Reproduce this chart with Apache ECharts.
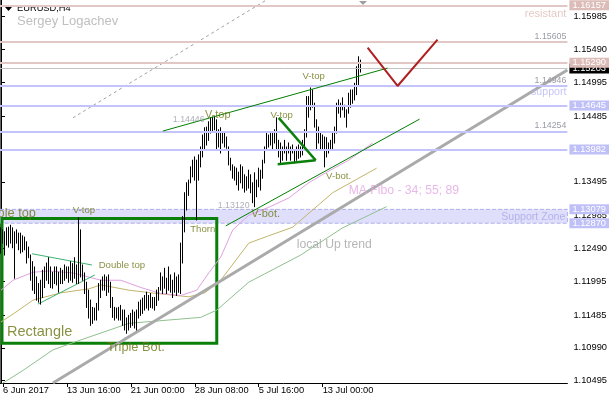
<!DOCTYPE html>
<html><head><meta charset="utf-8">
<script src="https://cdn.jsdelivr.net/npm/echarts@6/dist/echarts.min.js"></script>
<style>html,body{margin:0;padding:0;background:#fff}#c{width:610px;height:400px}</style>
</head><body><div id="c"></div>
<script>
// ---- data (EURUSD, H4) ----
const barHigh = [1.1280,1.1277,1.1274,1.1280,1.1281,1.1284,1.1280,1.1274,1.1277,1.1272,
1.1272,1.1268,1.1266,1.1259,1.1251,1.1239,1.1229,1.1221,1.1206,1.1196,
1.1201,1.1216,1.1221,1.1227,1.1235,1.1221,1.1213,1.1221,1.1221,1.1213,
1.1219,1.1216,1.1224,1.1221,1.1221,1.1229,1.1226,1.1235,1.1224,1.1295,
1.1277,1.1224,1.1212,1.1198,1.1186,1.1171,1.1160,1.1159,1.1166,1.1196,
1.1201,1.1206,1.1209,1.1206,1.1209,1.1198,1.1175,1.1160,1.1159,1.1160,
1.1163,1.1156,1.1156,1.1144,1.1148,1.1151,1.1156,1.1153,1.1156,1.1168,
1.1171,1.1174,1.1178,1.1183,1.1178,1.1181,1.1175,1.1175,1.1186,1.1190,
1.1212,1.1206,1.1219,1.1204,1.1221,1.1209,1.1201,1.1212,1.1206,1.1209,
1.1257,1.1297,1.1333,1.1348,1.1352,1.1372,1.1382,1.1387,1.1382,1.1390,
1.1402,1.1420,1.1431,1.1432,1.1440,1.1446,1.1447,1.1447,1.1443,1.1428,
1.1431,1.1425,1.1425,1.1417,1.1402,1.1385,1.1375,1.1372,1.1370,1.1364,
1.1375,1.1372,1.1360,1.1357,1.1367,1.1360,1.1348,1.1363,1.1352,1.1370,
1.1367,1.1382,1.1402,1.1423,1.1420,1.1425,1.1423,1.1428,1.1446,1.1412,
1.1408,1.1402,1.1412,1.1402,1.1408,1.1402,1.1405,1.1397,1.1402,1.1405,
1.1402,1.1412,1.1428,1.1478,1.1478,1.1491,1.1488,1.1468,1.1443,1.1432,
1.1423,1.1420,1.1417,1.1416,1.1408,1.1412,1.1423,1.1432,1.1468,1.1473,
1.1468,1.1476,1.1465,1.1458,1.1483,1.1488,1.1488,1.1498,1.1523,1.1538,
1.1533];
const barLow = [1.1242,1.1257,1.1239,1.1254,1.1251,1.1257,1.1250,1.1204,1.1257,1.1247,
1.1242,1.1244,1.1247,1.1227,1.1235,1.1201,1.1186,1.1181,1.1171,1.1168,
1.1165,1.1175,1.1190,1.1201,1.1196,1.1190,1.1189,1.1196,1.1194,1.1183,
1.1196,1.1196,1.1201,1.1204,1.1198,1.1201,1.1198,1.1204,1.1196,1.1196,
1.1206,1.1201,1.1181,1.1160,1.1144,1.1133,1.1136,1.1141,1.1141,1.1156,
1.1175,1.1186,1.1186,1.1178,1.1183,1.1160,1.1145,1.1141,1.1144,1.1141,
1.1141,1.1133,1.1126,1.1121,1.1126,1.1130,1.1133,1.1129,1.1126,1.1144,
1.1148,1.1151,1.1156,1.1159,1.1156,1.1160,1.1159,1.1156,1.1163,1.1171,
1.1186,1.1181,1.1189,1.1181,1.1186,1.1183,1.1175,1.1183,1.1178,1.1183,
1.1181,1.1227,1.1274,1.1307,1.1329,1.1348,1.1357,1.1352,1.1292,1.1352,
1.1372,1.1387,1.1397,1.1405,1.1412,1.1423,1.1425,1.1428,1.1397,1.1402,
1.1393,1.1408,1.1402,1.1400,1.1375,1.1367,1.1355,1.1352,1.1345,1.1337,
1.1348,1.1340,1.1334,1.1337,1.1340,1.1333,1.1318,1.1312,1.1327,1.1342,
1.1337,1.1355,1.1378,1.1397,1.1402,1.1405,1.1397,1.1408,1.1397,1.1387,
1.1378,1.1382,1.1393,1.1382,1.1393,1.1382,1.1393,1.1378,1.1382,1.1385,
1.1387,1.1390,1.1397,1.1417,1.1447,1.1458,1.1462,1.1432,1.1397,1.1408,
1.1397,1.1397,1.1372,1.1387,1.1393,1.1397,1.1397,1.1408,1.1423,1.1453,
1.1447,1.1458,1.1447,1.1432,1.1453,1.1462,1.1468,1.1473,1.1481,1.1496,
1.1515];
const lastPrice = 1.15203;

const timeTickIndex = [1, 33, 65, 97, 129, 161];
const timeTickText = ['6 Jun 2017', '13 Jun 16:00', '21 Jun 00:00', '28 Jun 08:00', '5 Jul 16:00', '13 Jul 00:00'];
const priceTicks = [1.10495, 1.10990, 1.11485, 1.11995, 1.12490, 1.12985, 1.13495, 1.13990, 1.14485, 1.14995, 1.15490, 1.15985];

const resistLevelsBoxed = [1.16157, 1.15290];
const resistLevelsTagged = [1.15605];
const supportLevelsBoxed = [1.14645, 1.13982];
const supportLevelsTagged = [1.14946, 1.14254];
const supportZone = [1.13079, 1.12870];

// moving averages (34 / 55 / 89), read at vertices [barIndex, price]
const ma34 = [[0,1.1186],[6,1.1201],[16,1.1213],[24,1.1215],[36,1.1212],[50,1.1201],[60,1.1201],[70,1.1190],[80,1.1181],[90,1.1178],[98,1.1186],[104,1.1212],[110,1.1236],[116,1.1277],[124,1.1299],[134,1.1311],[144,1.1325],[154,1.1348],[163,1.1364],[174,1.1382],[186,1.1408]];
const ma55 = [[0,1.1138],[7,1.1152],[16,1.1171],[30,1.1182],[44,1.1188],[50,1.1194],[64,1.1186],[75,1.1182],[94,1.1176],[102,1.1182],[110,1.1201],[124,1.1257],[134,1.1268],[146,1.1281],[166,1.1333],[188,1.1370]];
const ma89 = [[0,1.1044],[11,1.1065],[26,1.1096],[40,1.1111],[64,1.1136],[100,1.1145],[108,1.1156],[124,1.1198],[150,1.1239],[171,1.1280],[193,1.1312]];

// drawn objects [barIndex, price]
const upTrend = [[26,1.1046],[283.5,1.1518]];
const upTrendParallel = [[36,1.1446],[133,1.1624]];
const channelTop = [[81,1.1426],[193.5,1.1521]];
const channelBottom = [[112.5,1.1283],[209.5,1.1444]];
const triangleA = [[139,1.1446],[157.5,1.1382]];
const triangleB = [[138.5,1.1376],[157.5,1.1382]];
const flagTop = [[15.5,1.1241],[45.5,1.1224]];
const flagBottom = [[18.5,1.1165],[47,1.1209]];
const forecast = [[183.5,1.1552],[198.5,1.1494],[218.5,1.1564]];
const rectangleBox = [[0.5,1.1294],[108,1.1106]];

// text notes [text, barIndex, price, style]
const notes = [
  ['1.14446', 86, 1.1443, 'price'],
  ['1.13120', 108.5, 1.1313, 'price'],
  ['V-top', 41.5, 1.1306, 'pat'],
  ['Double top', 60.5, 1.1224, 'pat'],
  ['Thorn', 101, 1.1278, 'pat'],
  ['V-top', 108.5, 1.1450, 'patL'],
  ['V-top', 140.5, 1.1449, 'pat'],
  ['V-top', 156.5, 1.1508, 'pat'],
  ['V-bot.', 169, 1.1358, 'pat'],
  ['V-bot.', 132.5, 1.1301, 'patL'],
  ['Triple Bot.', 67.5, 1.1099, 'big'],
  ['Rectangle', 3, 1.1123, 'rect'],
  ['Triple top', 17.5, 1.1302, 'bigR'],
  ['local Up trend', 148, 1.1254, 'trend'],
  ['MA Fibo - 34; 55; 89', 174, 1.1336, 'ma'],
  ['Support Zone', 282.5, 1.1296, 'zone'],
  ['resistant', 283, 1.1602, 'res'],
  ['support', 283, 1.1485, 'sup']
];

// ---- styles ----
const FONT = 'Liberation Sans, Arial, sans-serif';
const PINK = '#e2c8c4', BLUE = '#c4c4fa', OLIVE = '#6b7512', GREEN = '#0a7f0a';
const noteStyles = {
  price: {color:'#9a9aa8', fontSize:8.8, align:'left'},
  pat:   {color:OLIVE, fontSize:9.6, align:'center'},
  patL:  {color:OLIVE, fontSize:11, align:'center'},
  big:   {color:OLIVE, fontSize:12.8, align:'center'},
  bigR:  {color:OLIVE, fontSize:12.8, align:'right'},
  rect:  {color:OLIVE, fontSize:14.5, align:'left'},
  trend: {color:'#a4a4a4', fontSize:12.2, align:'left'},
  ma:    {color:'#e3a6e3', fontSize:12.2, align:'left'},
  zone:  {color:'#a8a8e6', fontSize:10.6, align:'right'},
  res:   {color:'#dcbcb6', fontSize:11, align:'right'},
  sup:   {color:'#b6b6f2', fontSize:10.6, align:'right'}
};

function boxLine(v, lineColor, boxColor, textColor, width) {
  return {yAxis: v, lineStyle: {color: lineColor, width: width, type: 'solid'},
    label: {show: true, position: 'end', distance: 2, formatter: v.toFixed(5),
      backgroundColor: boxColor, color: textColor, padding: [0, 3, 0, 3], lineHeight: 10,
      fontSize: 9.3, fontFamily: FONT}};
}
function tagLine(v, lineColor) {
  return {yAxis: v, lineStyle: {color: lineColor, width: 2, type: 'solid'},
    label: {show: true, position: 'insideEndTop', distance: 1, formatter: v.toFixed(5),
      color: '#9a9aa8', fontSize: 8.8, fontFamily: FONT}};
}
const levelLines = [];
levelLines.push(boxLine(lastPrice, '#c4c4c4', '#000', '#fff', 1));
resistLevelsTagged.forEach(v => levelLines.push(tagLine(v, PINK)));
supportLevelsTagged.forEach(v => levelLines.push(tagLine(v, BLUE)));
resistLevelsBoxed.forEach(v => levelLines.push(boxLine(v, PINK, '#dcbcb8', '#fff', 2)));
supportLevelsBoxed.forEach(v => levelLines.push(boxLine(v, BLUE, '#c0c0f8', '#fff', 2)));
supportZone.forEach(v => levelLines.push(boxLine(v, 'rgba(0,0,0,0)', '#c0c0f8', '#fff', 0)));

function lineSeries(data, color, width, type, z) {
  return {type: 'line', data: data, showSymbol: false, symbol: 'none', silent: true, z: z || 2,
    lineStyle: {color: color, width: width, type: type || 'solid'}};
}

const chart = echarts.init(document.getElementById('c'), null, {renderer: 'canvas'});
chart.setOption({
  animation: false,
  backgroundColor: '#fff',
  grid: {left: 0, top: 0, width: 568, height: 383},
  xAxis: {
    type: 'value', min: -0.5, max: 283.5, position: 'bottom',
    splitLine: {show: false},
    axisLine: {show: true, lineStyle: {color: '#000', width: 1}},
    axisTick: {show: true, customValues: timeTickIndex, length: 4, lineStyle: {color: '#000'}},
    axisLabel: {customValues: timeTickIndex, align: 'left', margin: 3,
      formatter: v => timeTickText[timeTickIndex.indexOf(Math.round(v))] || '',
      fontSize: 9.3, fontFamily: FONT, color: '#000'}
  },
  yAxis: {
    type: 'value', position: 'right', min: 1.1046, max: 1.16237,
    splitLine: {show: false},
    axisLine: {show: true, lineStyle: {color: '#000', width: 1}},
    axisTick: {show: true, customValues: priceTicks, length: 4, lineStyle: {color: '#000'}},
    axisLabel: {customValues: priceTicks, margin: 6, formatter: v => v.toFixed(5),
      fontSize: 9.3, fontFamily: FONT, color: '#000'}
  },
  graphic: [
    {type: 'line', shape: {x1: 0.5, y1: 0, x2: 0.5, y2: 383}, style: {stroke: '#666', lineWidth: 1}},
    {type: 'polygon', shape: {points: [[5, 7], [12, 7], [8.5, 11]]}, style: {fill: '#000'}},
    {type: 'text', left: 17, top: 4, style: {text: 'EURUSD,H4', fill: '#000', fontSize: 9.3, fontFamily: FONT}},
    {type: 'text', left: 17, top: 15, style: {text: 'Sergey Logachev', fill: '#c0c0c0', fontSize: 13, fontFamily: FONT}},
    {type: 'polygon', shape: {points: [[359, 1], [367, 1], [363, 5]]}, style: {fill: '#a0a0a0'}}
  ],
  series: [
    {type: 'line', data: [], z: 1, silent: true,
      markArea: {silent: true, data: [
        [{yAxis: supportZone[0], itemStyle: {color: '#dfdffc', borderColor: '#b0b0ea', borderWidth: 1, borderType: 'dashed'}},
         {yAxis: supportZone[1]}]
      ]},
      markLine: {silent: true, symbol: 'none', precision: 6, data: levelLines}
    },
    lineSeries(ma89, '#8fc08f', 1, 'solid', 2),
    lineSeries(ma55, '#c2b46a', 1, 'solid', 2),
    lineSeries(ma34, '#e0a0e0', 1, 'solid', 2),
    lineSeries(upTrend, '#aaaaaa', 3, 'solid', 2),
    lineSeries(upTrendParallel, '#a0a0a0', 1, [3, 3], 2),
    lineSeries(flagTop, '#3cb371', 1, 'solid', 2),
    lineSeries(flagBottom, '#3cb371', 1, 'solid', 2),
    {type: 'line', data: [], z: 3, silent: true,
      markArea: {silent: true, data: [
        [{coord: rectangleBox[0], itemStyle: {color: 'rgba(0,0,0,0)', borderColor: GREEN, borderWidth: 3}},
         {coord: rectangleBox[1]}]
      ]}
    },
    {
      type: 'custom', z: 4, silent: true,
      data: barHigh.map((h, i) => [i, barLow[i], h]),
      encode: {x: 0, y: [1, 2]},
      renderItem: (params, api) => {
        const i = api.value(0);
        const lo = api.coord([i, api.value(1)]);
        const hi = api.coord([i, api.value(2)]);
        const x = Math.floor(lo[0]) + 0.5;
        return {type: 'line', shape: {x1: x, y1: lo[1] + 0.5, x2: x, y2: hi[1] - 0.5},
          style: {stroke: '#000', lineWidth: 1}};
      }
    },
    lineSeries(channelTop, '#008000', 1, 'solid', 5),
    lineSeries(channelBottom, '#008000', 1, 'solid', 5),
    lineSeries(triangleA, GREEN, 2.5, 'solid', 5),
    lineSeries(triangleB, GREEN, 2.5, 'solid', 5),
    lineSeries(forecast, '#b02020', 2, 'solid', 5),
    {
      type: 'scatter', z: 6, silent: true, symbolSize: 0,
      data: notes.map(n => {
        const s = noteStyles[n[3]];
        return {name: n[0], value: [n[1], n[2]],
          label: {show: true, position: 'inside', formatter: '{b}', color: s.color,
            fontSize: s.fontSize, fontFamily: FONT, align: s.align, verticalAlign: 'middle'}};
      })
    }
  ]
});
</script></body></html>
